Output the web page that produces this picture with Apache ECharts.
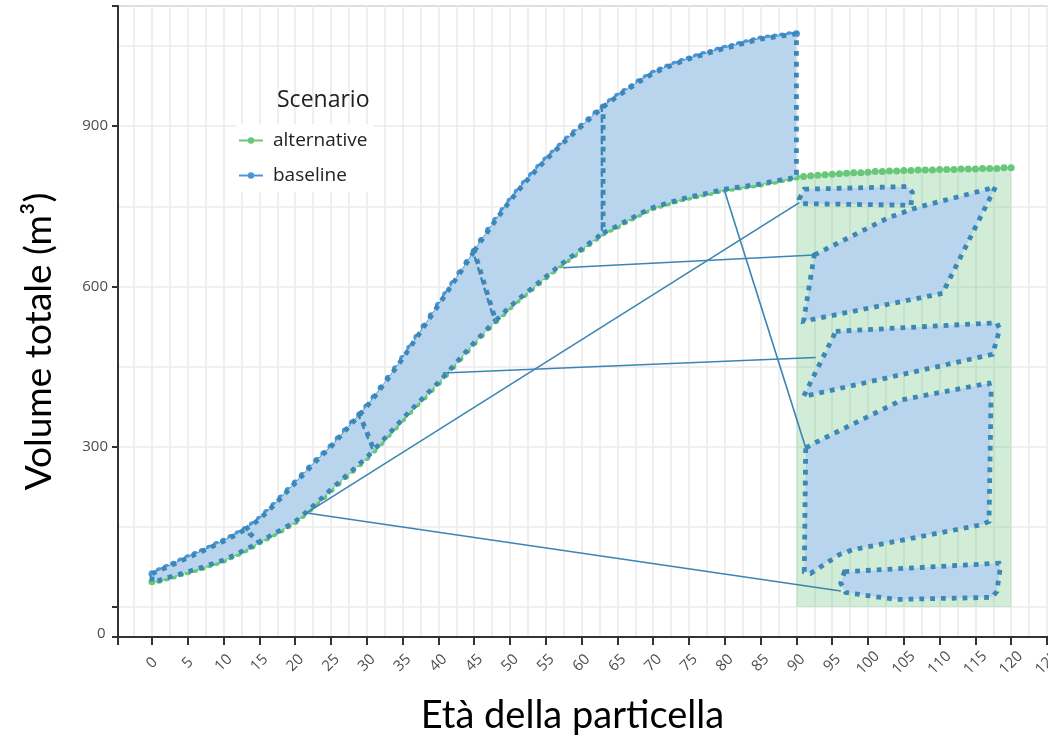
<!DOCTYPE html>
<html>
<head>
<meta charset="utf-8">
<script src="https://cdn.jsdelivr.net/npm/echarts@6/dist/echarts.min.js"></script>
<style>
html,body{margin:0;padding:0;background:#fff;}
#chart{width:1048px;height:742px;}
</style>
</head>
<body>
<div id="chart"></div>
<script>
// Volume per year of age (index = age)
const baselineVolume = [62,68,74,80,86,92,98,104,110,117,123,130,137,145,154,164,177,190,204,218,
  232,246,260,274,287,300,315,330,345,360,375,392,410,428,446,465,485,505,525,545,
  565,585,605,625,645,666,686,705,724,742,760,777,793,808,823,837,850,863,876,888,
  900,912,924,936,946,956,965,974,983,991,999,1005,1011,1016,1021,1026,1030,1034,1038,1042,
  1046,1049,1053,1056,1060,1063,1065,1067,1069,1071,1073];
const alternativeVolume = [47,50,54,58,62,66,70,74,79,83,88,94,100,107,114,122,129,137,144,152,
  160,171,183,195,207,220,232,244,256,268,280,294,308,323,337,352,366,380,393,407,
  420,435,450,465,480,495,509,523,536,549,562,574,585,596,607,618,629,640,650,660,
  670,680,690,700,707,713,721,728,735,742,748,752,756,760,764,767,770,773,776,779,
  782,784,786,788,790,792,795,797,800,802,805,806,807,808,809,810,811,812,813,813,
  814,815,815,816,816,817,817,818,818,818,819,819,819,820,820,820,821,821,821,822,822];
const seriesNames = ['alternative','baseline'];
const yTickLabels = [0,300,600,900];

// ribbon pieces between the two curves: [upperFrom, upperTo, lowerFrom, lowerTo] (ages)
const ribbonCuts = [[0,13,0,15],[13,29,15,31],[29,45,31,48],[45,63,48,63],[63,90,63,90]];
// moved copies inside the extra (90-120) area: [age, volume] vertices
const copyA = [[91.1,782],[105.5,787],[106.2,776],[106.0,752],[90.8,755],[90.4,764]];
const copyB = [[92.5,659],[102.9,729],[106.9,748],[117.8,786],[110.4,587],[91.0,535]];
const copyC = [[95.5,516],[118.0,532],[118.4,520],[117.4,473],[91.0,394],[95.0,502]];
const copyD = [[91.3,298],[92.7,308],[104.8,388],[116.9,419],[117.2,407],[116.9,160],[115.9,154],[97.8,107],[96.0,98],[92.0,63],[91.1,66]];
const copyE = [[96.7,66],[118.3,82],[118.5,76],[118.0,29],[117.3,18],[103.9,14],[96.9,27],[96.2,44]];
// connector segments
const connectors = [
  [[21.6,176],[96.2,30]],
  [[21.6,176],[90.4,757]],
  [[40.6,438],[92.7,467]],
  [[57.4,635],[92.5,659]],
  [[79.9,782],[91.3,298]]
];

const basePts = baselineVolume.map((v,i)=>[i,v]);
const altPts = alternativeVolume.map((v,i)=>[i,v]);
const extraPts = altPts.filter(p=>p[0]>=90);

const ribbons = ribbonCuts.map(c=>{
  const up = basePts.slice(c[0], c[1]+1);
  const lo = altPts.slice(c[2], c[3]+1).reverse();
  return up.concat(lo);
});
const polygons = ribbons.concat([copyA,copyB,copyC,copyD,copyE]);

const GREEN = '#66c878', BLUE = '#4a96dc';
const GRID = '#ebebeb';
const TICKC = '#4d4d4d';
const chart = echarts.init(document.getElementById('chart'));

const polyStyle = {fill:'#b9d5ee', stroke:'#3d87b5', lineWidth:4.8, lineDash:[4.8,6], lineCap:'butt', lineJoin:'miter'};

chart.setOption({
  animation:false,
  backgroundColor:'#fff',
  grid:{left:118, top:6, width:964.8, height:631, containLabel:false, outerBoundsMode:'none',
    show:true, borderColor:'#333', borderWidth:2, backgroundColor:'transparent'},
  title:{text:'Scenario', left:272, top:84, textStyle:{fontFamily:'Open Sans', fontSize:23, fontWeight:'normal', color:'#222'}},
  legend:{
    data:seriesNames, orient:'vertical', left:236, top:124,
    itemWidth:24, itemHeight:8, itemGap:10, backgroundColor:'#fff', padding:[4,6,4,2],
    textStyle:{fontFamily:'Open Sans', fontSize:19, color:'#222', padding:[0,0,0,5], lineHeight:25}
  },
  xAxis:{
    type:'value', min:-4.75, max:130, splitNumber:27,
    name:'Età della particella', nameLocation:'middle', nameGap:60,
    nameTextStyle:{fontFamily:'Lato', fontSize:38, color:'#000', padding:[0,56,0,0]},
    axisLine:{onZero:false, lineStyle:{color:'#333', width:2}},
    axisTick:{length:8, lineStyle:{color:'#333', width:2}},
    axisLabel:{rotate:45, align:'center', verticalAlign:'middle', margin:26, fontFamily:'Open Sans', fontSize:15, color:TICKC,
      formatter:v=> (Math.abs(v%5)<1e-9 ? String(v) : '')},
    splitLine:{show:true, lineStyle:{color:GRID, width:1.6}},
    minorTick:{show:false, splitNumber:2},
    minorSplitLine:{show:true, lineStyle:{color:GRID, width:1.6}}
  },
  yAxis:[{
    type:'value', min:-56.25, max:1125, splitNumber:4,
    name:'Volume totale (m³)', nameLocation:'middle', nameGap:60, nameRotate:90,
    nameTextStyle:{fontFamily:'Lato', fontSize:37, color:'#000', padding:[0,40,0,0]},
    axisLine:{show:true, onZero:false, lineStyle:{color:'#333', width:2}},
    axisTick:{length:6, lineStyle:{color:'#333', width:2}},
    axisLabel:{margin:10, fontFamily:'Open Sans', fontSize:15, color:TICKC,
      formatter:v=> (yTickLabels.indexOf(v)>0 ? String(v) : '')},
    splitLine:{show:true, lineStyle:{color:GRID, width:1.6}}
  },{
    type:'value', min:93.75, max:1275, splitNumber:4,
    axisLine:{show:false}, axisTick:{show:false}, axisLabel:{show:false},
    splitLine:{show:true, lineStyle:{color:GRID, width:1.6}}
  }],
  graphic:[{type:'text', left:97, top:626, style:{text:String(yTickLabels[0]), font:'15px "Open Sans"', fill:TICKC}}],
  series:[
    {name:'extra', type:'line', data:extraPts, showSymbol:false, lineStyle:{width:0},
      areaStyle:{color:'rgba(100,195,120,0.42)'}, z:1, silent:true},
    {name:seriesNames[0], type:'line', data:altPts, symbol:'circle', symbolSize:7, itemStyle:{color:GREEN},
      lineStyle:{color:GREEN, width:1.5}, z:2},
    {name:seriesNames[1], type:'line', data:basePts, symbol:'circle', symbolSize:7, itemStyle:{color:BLUE},
      lineStyle:{color:BLUE, width:1.5}, z:2},
    {name:'pieces', type:'custom', coordinateSystem:'cartesian2d', z:3, silent:true,
      data:polygons.map((p,i)=>[p[0][0],p[0][1],i]),
      encode:{x:0,y:1},
      renderItem:(params, api)=>{
        const pts = polygons[params.dataIndex].map(p=>api.coord(p));
        return {type:'polygon', shape:{points:pts}, style:polyStyle};
      }},
    {name:'links', type:'custom', coordinateSystem:'cartesian2d', z:4, silent:true,
      data:connectors.map((c,i)=>[c[0][0],c[0][1],i]),
      encode:{x:0,y:1},
      renderItem:(params, api)=>{
        const c = connectors[params.dataIndex];
        const a = api.coord(c[0]), b = api.coord(c[1]);
        return {type:'line', shape:{x1:a[0],y1:a[1],x2:b[0],y2:b[1]}, style:{stroke:'#3a85b3', lineWidth:1.6}};
      }}
  ]
});
</script>
</body>
</html>
